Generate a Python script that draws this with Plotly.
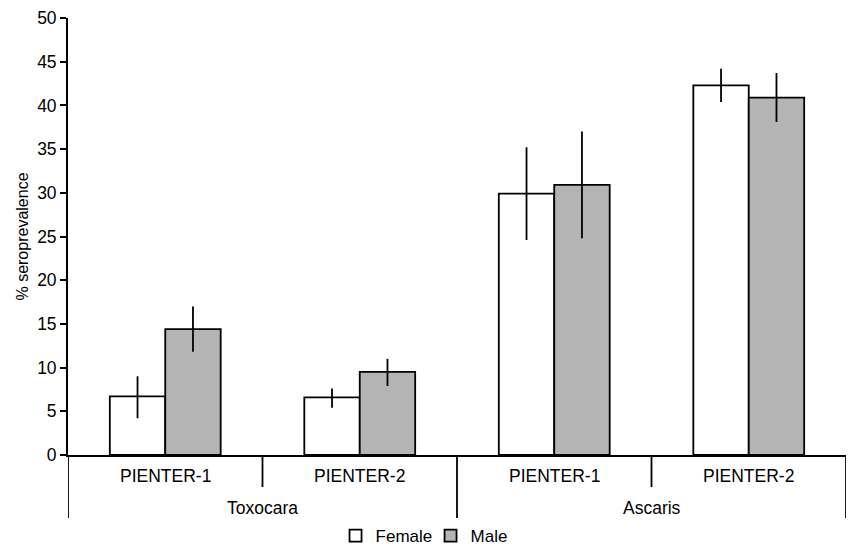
import plotly.graph_objects as go

groups = ["Toxocara", "Ascaris"]
subcats = ["PIENTER-1", "PIENTER-2", "PIENTER-1", "PIENTER-2"]
female = [6.7, 6.6, 29.9, 42.3]
female_lo = [4.2, 5.4, 24.6, 40.4]
female_hi = [9.0, 7.6, 35.2, 44.2]
male = [14.4, 9.5, 30.9, 40.9]
male_lo = [11.8, 7.9, 24.8, 38.1]
male_hi = [17.0, 11.0, 37.0, 43.7]
y_ticks = list(range(0, 55, 5))

xpos = list(range(len(subcats)))
font = "Liberation Sans, Arial, sans-serif"
FS = 17.5

def errs(v, lo, hi):
    return [h - x for x, h in zip(v, hi)], [x - l for x, l in zip(v, lo)]

fp, fm = errs(female, female_lo, female_hi)
mp, mm = errs(male, male_lo, male_hi)

fig = go.Figure()
fig.add_trace(go.Bar(
    x=xpos, y=female, name="Female",
    marker=dict(color="white", line=dict(color="black", width=1.8)),
    error_y=dict(type="data", array=fp, arrayminus=fm, color="black", thickness=1.8, width=0),
))
fig.add_trace(go.Bar(
    x=xpos, y=male, name="Male",
    marker=dict(color="#b4b4b4", line=dict(color="black", width=1.8)),
    error_y=dict(type="data", array=mp, arrayminus=mm, color="black", thickness=1.8, width=0),
))

H = 437.0
shapes = []
n = len(subcats)
per_group = n // len(groups)
for b in range(n + 1):
    long = (b % per_group == 0)
    shapes.append(dict(
        type="line", xref="x", yref="paper",
        x0=b - 0.5, x1=b - 0.5, y0=0, y1=(-63 if long else -32) / H,
        line=dict(color="black", width=1.8),
    ))

annotations = []
for i, s in enumerate(subcats):
    annotations.append(dict(
        x=i, y=-21 / H, xref="x", yref="paper", text=s, showarrow=False,
        xanchor="center", yanchor="middle", font=dict(family=font, size=FS, color="black"),
    ))
for g, name in enumerate(groups):
    center = g * per_group + (per_group - 1) / 2
    annotations.append(dict(
        x=center, y=-53 / H, xref="x", yref="paper", text=name, showarrow=False,
        xanchor="center", yanchor="middle", font=dict(family=font, size=FS, color="black"),
    ))

fig.update_layout(
    width=848, height=545,
    margin=dict(l=68, r=2, t=18, b=90, autoexpand=False),
    paper_bgcolor="white", plot_bgcolor="white",
    barmode="group", bargap=0.43, bargroupgap=0,
    font=dict(family=font, size=FS, color="black"),
    shapes=shapes, annotations=annotations,
    legend=dict(
        orientation="h", x=0.466, xanchor="center", y=-81 / H, yanchor="middle",
        font=dict(family=font, size=17, color="black"),
        itemwidth=30, entrywidth=50, tracegroupgap=0, itemclick=False,
    ),
    showlegend=True,
)
fig.update_xaxes(
    range=[-0.5, n - 0.5], showgrid=False, zeroline=False, automargin=False,
    showticklabels=False, ticks="", showline=True, linecolor="black", linewidth=1.8,
)
fig.update_yaxes(
    range=[0, 50], tickvals=y_ticks, showgrid=False, zeroline=False, automargin=False,
    showline=True, linecolor="black", linewidth=1.8,
    ticks="outside", ticklen=6, tickwidth=1.5, tickcolor="black",
    tickfont=dict(family=font, size=FS, color="black"),
    title=dict(text="% seroprevalence", font=dict(family=font, size=16, color="black"), standoff=5),
)

fig.write_html(
    "out.html",
    config={"displayModeBar": False},
    post_script="document.body.style.margin='0';document.body.style.overflow='hidden';",
)
